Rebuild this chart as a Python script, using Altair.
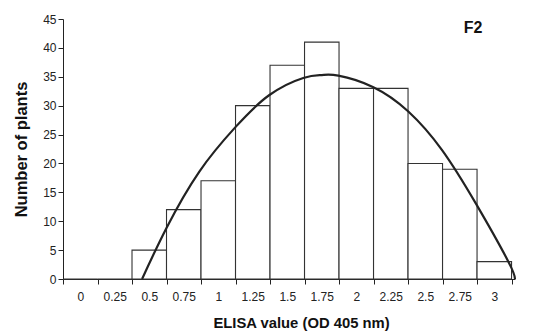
import altair as alt
import pandas as pd

# Histogram bins (ELISA value, bin centres) and counts
bin_centres = [0, 0.25, 0.5, 0.75, 1, 1.25, 1.5, 1.75, 2, 2.25, 2.5, 2.75, 3]
counts = [0, 0, 5, 12, 17, 30, 37, 41, 33, 33, 20, 19, 3]
bin_width = 0.25

# Fitted curve, points (ELISA value, number of plants)
curve_x = [0.448, 0.624, 0.863, 1.121, 1.368, 1.616, 1.75, 1.87,
           2.124, 2.377, 2.619, 2.868, 3.102, 3.15]
curve_y = [0.0, 8.8, 18.6, 26.2, 31.8, 34.8, 35.3, 35.2,
           33.2, 29.0, 22.4, 13.0, 3.0, 0.0]

y_ticks = [0, 5, 10, 15, 20, 25, 30, 35, 40, 45]

bars_df = pd.DataFrame({
    "lo": [c - bin_width / 2 for c in bin_centres],
    "hi": [c + bin_width / 2 for c in bin_centres],
    "n": counts,
})
curve_df = pd.DataFrame({"x": curve_x, "y": curve_y})
edges = [c - bin_width / 2 for c in bin_centres] + [bin_centres[-1] + bin_width / 2]

FONT = "Liberation Sans"
W, H = 452, 260
x_domain = [-0.125, 3.15]
half_band_px = W * (bin_width / 2) / (x_domain[1] - x_domain[0])

xscale = alt.Scale(domain=x_domain, nice=False, zero=False)
yscale = alt.Scale(domain=[0, 45], nice=False)

xaxis = alt.Axis(title="ELISA value (OD 405 nm)", values=edges,
                 labelExpr="datum.value < 3.1 ? '' + (datum.value + 0.125) : ''",
                 labelOffset=half_band_px, labelAngle=0,
                 tickSize=5, labelPadding=7, labelFontSize=12,
                 labelColor="#222222", labelFlush=False, labelOverlap=False,
                 titleFontSize=14.8, titleFontWeight="bold",
                 titlePadding=13, titleColor="#111111", titleX=238,
                 grid=False, domainColor="#222222", tickColor="#222222",
                 labelFont=FONT, titleFont=FONT)
yaxis = alt.Axis(title="Number of plants", values=y_ticks,
                 tickSize=5, labelPadding=2, labelFontSize=12,
                 labelColor="#222222", titleFontSize=16.5,
                 titleFontWeight="bold", titlePadding=13,
                 titleColor="#111111", grid=False,
                 domainColor="#222222", tickColor="#222222",
                 labelFont=FONT, titleFont=FONT)

bars = alt.Chart(bars_df).mark_rect(
    fill="white", stroke="#333333", strokeWidth=1.1
).encode(
    x=alt.X("lo:Q", scale=xscale, axis=xaxis),
    x2="hi:Q",
    y=alt.Y("n:Q", scale=yscale, axis=yaxis),
    y2=alt.datum(0),
)

curve = alt.Chart(curve_df).mark_line(
    color="#222222", strokeWidth=2.2, interpolate="natural"
).encode(
    x=alt.X("x:Q", scale=xscale, axis=xaxis),
    y=alt.Y("y:Q", scale=yscale, axis=yaxis),
)

label = alt.Chart(pd.DataFrame({"t": ["F2"]})).mark_text(
    font=FONT, fontSize=16, fontWeight="bold", color="#111111", align="center",
    baseline="middle"
).encode(text="t:N", x=alt.value(410), y=alt.value(9))

chart = alt.layer(bars, curve, label).properties(
    width=W, height=H,
    padding={"left": 55, "top": 11, "right": 13, "bottom": 53},
    autosize=alt.AutoSizeParams(type="none"),
    background="white",
).configure_view(
    stroke="transparent", strokeWidth=0
)

chart.save("out.html", embed_options={"renderer": "svg", "actions": False})
